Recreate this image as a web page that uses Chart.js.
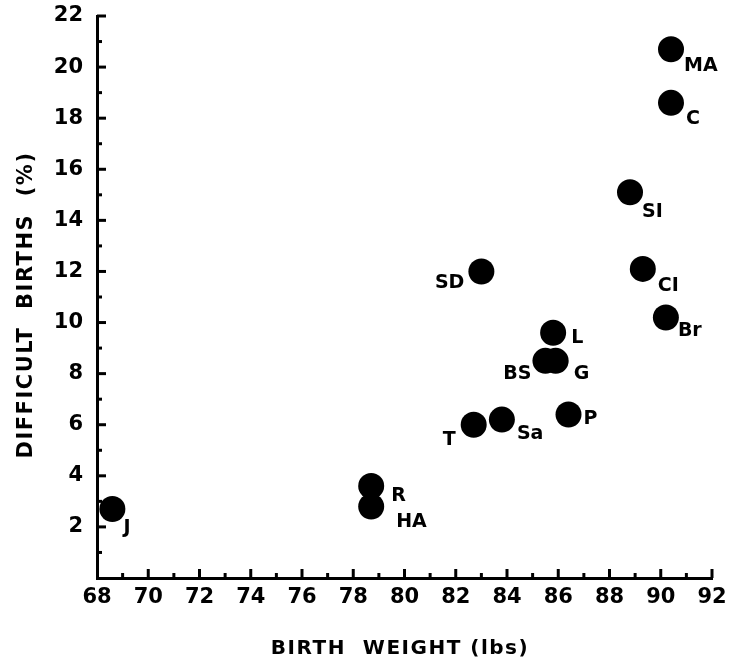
<!DOCTYPE html>
<html>
<head>
<meta charset="utf-8">
<script src="https://cdn.jsdelivr.net/npm/chart.js@4.4.1/dist/chart.umd.min.js"></script>
<style>
  html, body { margin: 0; padding: 0; background: #fff; }
  #wrap { width: 730px; height: 662px; }
</style>
</head>
<body>
<div id="wrap"><canvas id="c" width="730" height="662"></canvas></div>
<script>
// ---- data ----
const breeds = ['J', 'R', 'HA', 'T', 'Sa', 'SD', 'BS', 'G', 'L', 'P', 'SI', 'CI', 'Br', 'MA', 'C'];
const birthWeight = [68.6, 78.7, 78.7, 82.7, 83.8, 83.0, 85.5, 85.9, 85.8, 86.4, 88.8, 89.3, 90.2, 90.4, 90.4];
const difficultBirths = [2.7, 3.6, 2.8, 6.0, 6.2, 12.0, 8.5, 8.5, 9.6, 6.4, 15.1, 12.1, 10.2, 20.7, 18.6];
const xTicks = [68, 70, 72, 74, 76, 78, 80, 82, 84, 86, 88, 90, 92];
const yTicks = [2, 4, 6, 8, 10, 12, 14, 16, 18, 20, 22];
const xTitle = 'BIRTH  WEIGHT (lbs)';
const yTitle = 'DIFFICULT  BIRTHS  (%)';

// ---- label placement (style only): [dx, dy, align] relative to the point ----
const labelPlacement = {
  J: [11, 19, 'left'], R: [20, 10, 'left'], HA: [25, 16, 'left'],
  T: [-18, 15, 'right'], Sa: [15, 14, 'left'], SD: [-17, 12, 'right'],
  BS: [-14, 13, 'right'], G: [18, 13, 'left'], L: [18, 5, 'left'],
  P: [15, 5, 'left'], SI: [12, 20, 'left'], CI: [15, 17, 'left'],
  Br: [12, 14, 'left'], MA: [13, 17, 'left'], C: [15, 16, 'left']
};

const points = birthWeight.map((x, i) => ({ x: x, y: difficultBirths[i] }));

const tickMarks = {
  id: 'tickMarks',
  afterDraw(chart) {
    const ctx = chart.ctx;
    const xs = chart.scales.x, ys = chart.scales.y;
    const ax = chart.chartArea.left, ay = chart.chartArea.bottom;
    ctx.save();
    ctx.strokeStyle = '#000';
    ctx.lineWidth = 3;
    ctx.lineCap = 'butt';
    for (let v = ys.min + 1; v <= ys.max; v++) {
      const py = ys.getPixelForValue(v);
      const len = (v % 2 === 0) ? 9 : 5;
      ctx.beginPath(); ctx.moveTo(ax, py); ctx.lineTo(ax + len, py); ctx.stroke();
    }
    for (let v = xs.min + 1; v <= xs.max; v++) {
      const px = xs.getPixelForValue(v);
      const len = (v % 2 === 0) ? 9 : 5;
      ctx.beginPath(); ctx.moveTo(px, ay); ctx.lineTo(px, ay - len); ctx.stroke();
    }
    ctx.restore();
  }
};

const axisTitles = {
  id: 'axisTitles',
  afterDraw(chart) {
    const ctx = chart.ctx;
    ctx.save();
    ctx.fillStyle = '#000';
    ctx.textAlign = 'center';
    ctx.textBaseline = 'middle';
    ctx.letterSpacing = '1.5px';
    ctx.font = 'bold 20px "DejaVu Sans"';
    ctx.fillText(xTitle, 400, 649);
    ctx.translate(27, 305);
    ctx.rotate(-Math.PI / 2);
    ctx.font = 'bold 21px "DejaVu Sans"';
    ctx.fillText(yTitle, 0, 0);
    ctx.restore();
  }
};

const pointLabels = {
  id: 'pointLabels',
  afterDatasetsDraw(chart) {
    const ctx = chart.ctx;
    const meta = chart.getDatasetMeta(0);
    ctx.save();
    ctx.fillStyle = '#000';
    ctx.font = 'bold 19px "DejaVu Sans"';
    ctx.textBaseline = 'middle';
    meta.data.forEach((el, i) => {
      const name = breeds[i];
      const p = labelPlacement[name];
      ctx.textAlign = p[2];
      ctx.fillText(name, el.x + p[0], el.y + p[1]);
    });
    ctx.restore();
  }
};

new Chart(document.getElementById('c'), {
  type: 'scatter',
  data: {
    datasets: [{
      data: points,
      backgroundColor: '#000',
      borderWidth: 0,
      pointRadius: 13,
      pointHoverRadius: 13
    }]
  },
  plugins: [tickMarks, pointLabels, axisTitles],
  options: {
    responsive: false,
    animation: false,
    events: [],
    layout: { padding: { left: 0, top: 16, right: 18, bottom: 0 } },
    plugins: { legend: { display: false }, tooltip: { enabled: false } },
    scales: {
      x: {
        type: 'linear',
        min: xTicks[0],
        max: xTicks[xTicks.length - 1],
        afterBuildTicks: (s) => { s.ticks = xTicks.map(v => ({ value: v })); },
        afterFit: (s) => { s.height = 84; s.paddingLeft = 0; s.paddingRight = 0; },
        grid: { display: false, drawTicks: false },
        border: { display: true, color: '#000', width: 3 },
        ticks: {
          color: '#000',
          padding: 7,
          maxRotation: 0,
          autoSkip: false,
          font: { family: '"DejaVu Sans"', size: 21, weight: 'bold' }
        }
      },
      y: {
        type: 'linear',
        min: 0,
        max: 22,
        afterBuildTicks: (s) => { s.ticks = yTicks.map(v => ({ value: v })); },
        afterFit: (s) => { s.width = 97; s.paddingTop = 0; s.paddingBottom = 0; },
        grid: { display: false, drawTicks: false },
        border: { display: true, color: '#000', width: 3 },
        ticks: {
          color: '#000',
          padding: 14,
          autoSkip: false,
          font: { family: '"DejaVu Sans"', size: 21, weight: 'bold' }
        }
      }
    }
  }
});
</script>
</body>
</html>
